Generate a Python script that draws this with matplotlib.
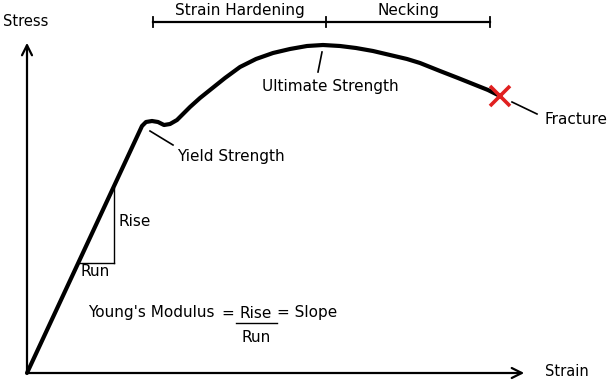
import matplotlib
matplotlib.use("Agg")
import matplotlib.pyplot as plt

# Stress-strain curve (strain, stress)
strain = [0, 115, 119, 125, 131, 137, 143, 150, 163, 173, 183, 198, 213, 229, 246,
          263, 280, 296, 313, 329, 346, 363, 380, 393, 413, 431, 446, 461, 473]
stress = [0, 247, 251, 252, 251, 248, 249, 253, 266, 275, 283, 295, 306, 314, 320,
          324, 327, 328, 327, 325, 322, 318, 314, 310, 302, 295, 289, 283, 277]

fracture = (473, 277)
regions = ["Strain Hardening", "Necking"]
region_bounds = [126, 299, 463]

fig = plt.figure(figsize=(6.12, 3.9), dpi=100)
ax = fig.add_axes([0, 0, 1, 1])
ax.set_xlim(-27, 585)
ax.set_ylim(-17, 373)
ax.axis("off")

# axes with open arrow heads
ax.annotate("", xy=(0, 333), xytext=(0, -1),
            arrowprops=dict(arrowstyle="->", lw=1.6, color="black", mutation_scale=18))
ax.annotate("", xy=(500, 0), xytext=(-1, 0),
            arrowprops=dict(arrowstyle="->", lw=1.6, color="black", mutation_scale=18))
ax.text(-24, 351, "Stress", fontsize=10.5, ha="left", va="center")
ax.text(518, 1, "Strain", fontsize=10.5, ha="left", va="center")

# curve
ax.plot(strain, stress, color="black", lw=3, solid_capstyle="round", solid_joinstyle="round")

# fracture marker
ax.plot([fracture[0]], [fracture[1]], marker="x", color="#e02020", ms=14, mew=2.6)

# top bracket
ax.plot([region_bounds[0], region_bounds[-1]], [351, 351], color="black", lw=1.6)
for b in region_bounds:
    ax.plot([b, b], [346, 356], color="black", lw=1.3)
for i, name in enumerate(regions):
    ax.text((region_bounds[i] + region_bounds[i + 1]) / 2, 362, name,
            fontsize=11, ha="center", va="center")

# annotations
ax.plot([295, 291], [321, 301], color="black", lw=1.2)
ax.text(303, 286, "Ultimate Strength", fontsize=11, ha="center", va="center")

ax.plot([123, 146], [242, 228], color="black", lw=1.2)
ax.text(150, 217, "Yield Strength", fontsize=11, ha="left", va="center")

ax.plot([485, 510], [271, 259], color="black", lw=1.2)
ax.text(517, 253, "Fracture", fontsize=11, ha="left", va="center")

# rise / run triangle
ax.plot([87, 87], [185, 110], color="black", lw=1.0)
ax.plot([51, 87], [110, 110], color="black", lw=1.0)
ax.text(92, 151, "Rise", fontsize=11, ha="left", va="center")
ax.text(54, 101, "Run", fontsize=11, ha="left", va="center")

# Young's modulus formula
ax.text(61, 60, "Young's Modulus", fontsize=11, ha="left", va="center")
ax.text(200.5, 60, "=", fontsize=11, ha="center", va="center")
ax.text(229, 60, "Rise", fontsize=11, ha="center", va="center")
ax.plot([209, 250], [50, 50], color="black", lw=1.0)
ax.text(229, 35, "Run", fontsize=11, ha="center", va="center")
ax.text(250, 60, "= Slope", fontsize=11, ha="left", va="center")

fig.savefig("out.png", dpi=100)
